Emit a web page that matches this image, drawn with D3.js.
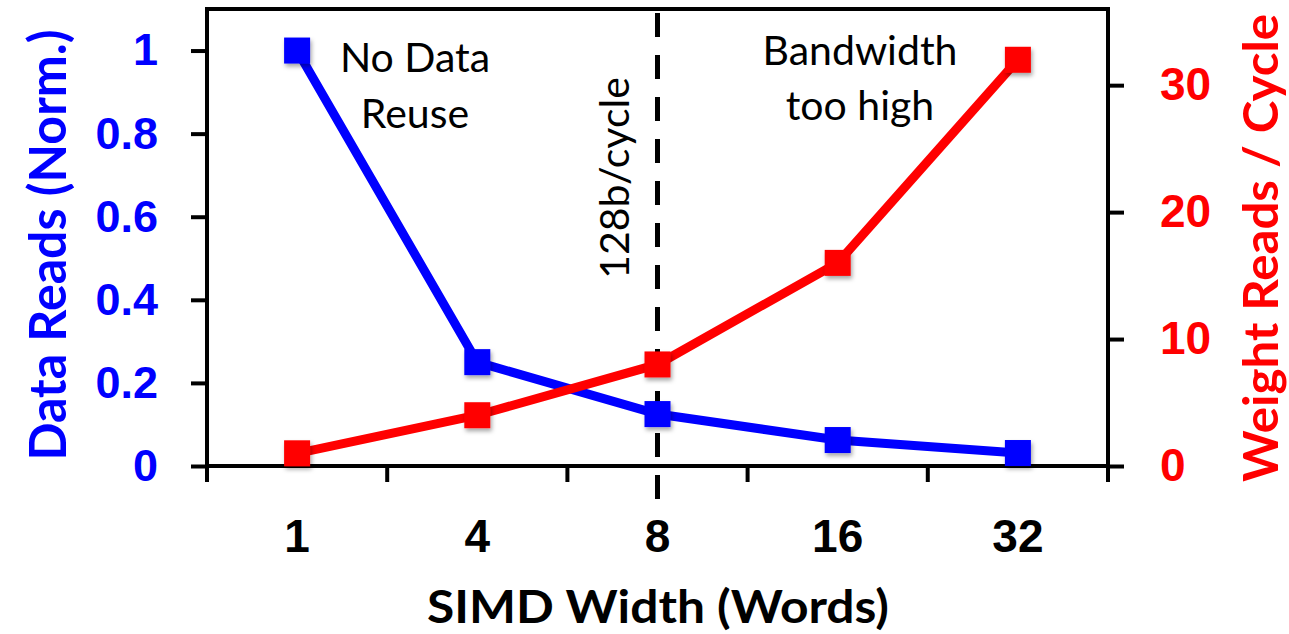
<!DOCTYPE html>
<html>
<head>
<meta charset="utf-8">
<script src="https://cdn.jsdelivr.net/npm/d3@7"></script>
<style>
  html, body { margin: 0; padding: 0; background: #fff; }
  svg { display: block; font-family: Lato, "Open Sans", sans-serif; }
</style>
</head>
<body>
<svg id="chart" width="1289" height="634"></svg>
<script>
// ---- data ----
const categories = ["1", "4", "8", "16", "32"];
const dataReads = [1, 0.25, 0.125, 0.0625, 0.03125];
const weightReads = [1, 4, 8, 16, 32];
const leftTickValues = [0, 0.2, 0.4, 0.6, 0.8, 1];
const rightTickValues = [0, 10, 20, 30];
const leftDomain = [0, 1.1];
const rightDomain = [0, 36];
const markerCategory = "8";
const leftTitle = "Data Reads (Norm.)";
const rightTitle = "Weight Reads / Cycle";
const xTitle = "SIMD Width (Words)";
const noteLeft = ["No Data", "Reuse"];
const noteRight = ["Bandwidth", "too high"];
const noteLine = "128b/cycle";

// ---- layout ----
const W = 1289, H = 634;
const margin = { left: 207, right: 181, top: 9, bottom: 168 };
const x0 = margin.left, x1 = W - margin.right;
const y0 = H - margin.bottom, y1 = margin.top;
const BLUE = "#0000ff", RED = "#ff0000";

const svg = d3.select("#chart");
const defs = svg.append("defs");
const f = defs.append("filter").attr("id", "shadow").attr("x", "-30%").attr("y", "-30%").attr("width", "170%").attr("height", "170%");
f.append("feDropShadow").attr("dx", 1.5).attr("dy", 3).attr("stdDeviation", 2).attr("flood-color", "#000").attr("flood-opacity", 0.35);

const x = d3.scaleBand().domain(categories).range([x0, x1]).padding(0);
const yL = d3.scaleLinear().domain(leftDomain).range([y0, y1]);
const yR = d3.scaleLinear().domain(rightDomain).range([y0, y1]);
const cx = c => x(c) + x.bandwidth() / 2;

// frame
svg.append("rect").attr("x", x0).attr("y", y1).attr("width", x1 - x0).attr("height", y0 - y1)
  .attr("fill", "none").attr("stroke", "#000").attr("stroke-width", 4);

// left axis
const gL = svg.append("g").attr("transform", `translate(${x0},0)`)
  .call(d3.axisLeft(yL).tickValues(leftTickValues).tickSize(16).tickPadding(33).tickFormat(d3.format("~g")));
gL.select(".domain").remove();
gL.selectAll(".tick line").attr("stroke", "#000").attr("stroke-width", 4);
gL.selectAll(".tick text").attr("fill", BLUE).attr("font-size", 45).attr("font-weight", "bold");

// right axis
const gR = svg.append("g").attr("transform", `translate(${x1},0)`)
  .call(d3.axisRight(yR).tickValues(rightTickValues).tickSize(16).tickPadding(36));
gR.select(".domain").remove();
gR.selectAll(".tick line").attr("stroke", "#000").attr("stroke-width", 4);
gR.selectAll(".tick text").attr("fill", RED).attr("font-size", 46).attr("font-weight", "bold");

// extend axis lines below baseline
svg.append("line").attr("x1", x0).attr("x2", x0).attr("y1", y0).attr("y2", y0 + 16).attr("stroke", "#000").attr("stroke-width", 4);
svg.append("line").attr("x1", x1).attr("x2", x1).attr("y1", y0).attr("y2", y0 + 16).attr("stroke", "#000").attr("stroke-width", 4);

// bottom axis: boundary ticks
const boundaries = categories.slice(1).map(c => x(c));
svg.selectAll(".btick").data(boundaries).join("line").attr("class", "btick")
  .attr("x1", d => d).attr("x2", d => d).attr("y1", y0).attr("y2", y0 + 16)
  .attr("stroke", "#000").attr("stroke-width", 4);
const gB = svg.append("g").attr("transform", `translate(0,${y0})`)
  .call(d3.axisBottom(x).tickSize(0).tickPadding(53));
gB.select(".domain").remove();
gB.selectAll(".tick text").attr("fill", "#000").attr("font-size", 46).attr("font-weight", "bold");

// dashed vertical line
svg.append("line").attr("x1", cx(markerCategory)).attr("x2", cx(markerCategory))
  .attr("y1", y1 + 4).attr("y2", y0 + 40)
  .attr("stroke", "#000").attr("stroke-width", 5).attr("stroke-dasharray", "24,18");

// series lines
const lineL = d3.line().x((d, i) => cx(categories[i])).y(d => yL(d));
const lineR = d3.line().x((d, i) => cx(categories[i])).y(d => yR(d));
svg.append("path").attr("d", lineL(dataReads)).attr("fill", "none").attr("stroke", BLUE).attr("stroke-width", 9);
svg.append("path").attr("d", lineR(weightReads)).attr("fill", "none").attr("stroke", RED).attr("stroke-width", 9);

const S = 26;
svg.selectAll(".mB").data(dataReads).join("rect").attr("class", "mB")
  .attr("x", (d, i) => cx(categories[i]) - S / 2).attr("y", d => yL(d) - S / 2)
  .attr("width", S).attr("height", S).attr("fill", BLUE).attr("filter", "url(#shadow)");
svg.selectAll(".mR").data(weightReads).join("rect").attr("class", "mR")
  .attr("x", (d, i) => cx(categories[i]) - S / 2).attr("y", d => yR(d) - S / 2)
  .attr("width", S).attr("height", S).attr("fill", RED).attr("filter", "url(#shadow)");

// axis titles
svg.append("text").attr("transform", `translate(66,245) rotate(-90)`).attr("text-anchor", "middle")
  .attr("font-size", 51).attr("font-weight", "bold").attr("fill", BLUE)
  .attr("textLength", 431).attr("lengthAdjust", "spacingAndGlyphs").text(leftTitle);
svg.append("text").attr("transform", `translate(1278,248) rotate(-90)`).attr("text-anchor", "middle")
  .attr("font-size", 48).attr("font-weight", "bold").attr("fill", RED)
  .attr("textLength", 468).attr("lengthAdjust", "spacingAndGlyphs").text(rightTitle);
svg.append("text").attr("x", 658).attr("y", 623).attr("text-anchor", "middle")
  .attr("font-size", 46).attr("font-weight", "bold").attr("fill", "#000")
  .attr("textLength", 462).attr("lengthAdjust", "spacingAndGlyphs").text(xTitle);

// annotations
const noteL = svg.append("text").attr("text-anchor", "middle").attr("font-size", 41).attr("fill", "#000");
noteL.selectAll("tspan").data(noteLeft).join("tspan").attr("x", 415).attr("y", (d, i) => 72 + i * 56).text(d => d);
const noteR = svg.append("text").attr("text-anchor", "middle").attr("font-size", 41).attr("fill", "#000");
noteR.selectAll("tspan").data(noteRight).join("tspan").attr("x", 860).attr("y", (d, i) => 65 + i * 55).text(d => d);
svg.append("text").attr("transform", `translate(629,178) rotate(-90)`).attr("text-anchor", "middle")
  .attr("font-size", 41).attr("fill", "#000").text(noteLine);
</script>
</body>
</html>
